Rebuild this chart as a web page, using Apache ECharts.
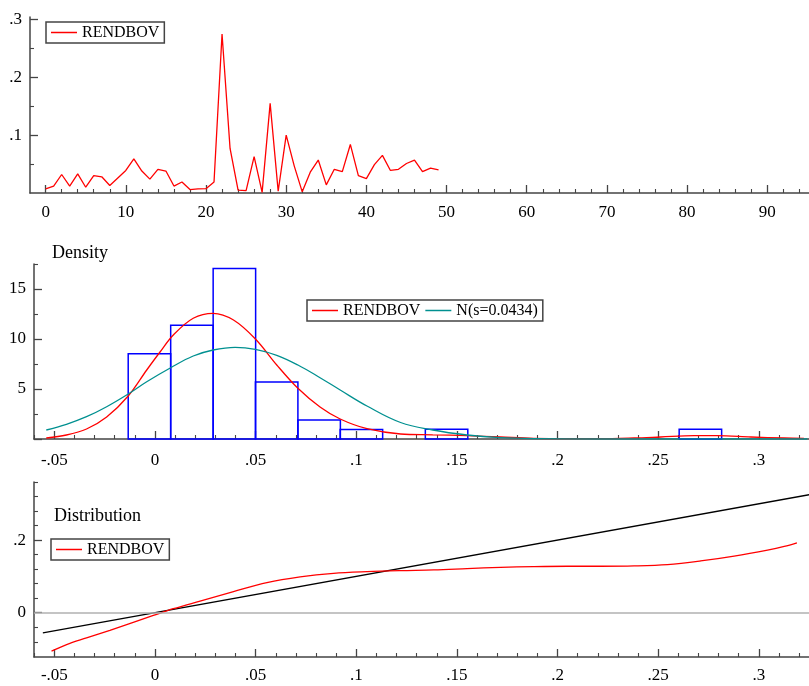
<!DOCTYPE html>
<html>
<head>
<meta charset="utf-8">
<script src="https://cdn.jsdelivr.net/npm/echarts@6/dist/echarts.min.js"></script>
<style>
  html, body { margin: 0; padding: 0; background: #fff; }
  #main { width: 809px; height: 686px; }
</style>
</head>
<body>
<div id="main"></div>
<script>
// panel 1: series by lag index 0..49
var rendbov = [0.007, 0.012, 0.032, 0.012, 0.033, 0.010, 0.030, 0.028, 0.013, 0.026,
  0.039, 0.059, 0.038, 0.024, 0.041, 0.038, 0.012, 0.019, 0.006, 0.007,
  0.0075, 0.019, 0.275, 0.077, 0.005, 0.004, 0.063, 0.001, 0.155, 0.003,
  0.100, 0.047, 0.002, 0.036, 0.057, 0.014, 0.041, 0.037, 0.084, 0.030,
  0.025, 0.049, 0.065, 0.039, 0.041, 0.051, 0.057, 0.037, 0.043, 0.040];

// panel 2: histogram (left edge, height), bin width
var binLeft = [-0.0133, 0.0078, 0.0289, 0.0499, 0.0710, 0.0920, 0.1343, 0.2604];
var binHeight = [8.53, 11.37, 17.06, 5.69, 1.90, 0.95, 0.97, 0.97];
var binWidth = 0.0211;

// panel 2: kernel density (red)
var densX = [-0.054, -0.044, -0.034, -0.024, -0.0133, -0.0041, 0.0025, 0.0091, 0.019, 0.0289,
  0.039, 0.0499, 0.0605, 0.071, 0.082, 0.092, 0.1053, 0.122, 0.138, 0.155,
  0.1716, 0.188, 0.2048, 0.221, 0.238, 0.2512, 0.2678, 0.2794, 0.296, 0.3125, 0.3224];
var densY = [0.1, 0.4, 1.0, 2.2, 4.3, 6.9, 8.7, 10.4, 12.07, 12.57,
  11.9, 10.0, 7.4, 5.07, 3.2, 2.0, 1.03, 0.5, 0.42, 0.33,
  0.2, 0.07, 0.03, 0.03, 0.1, 0.2, 0.33, 0.33, 0.2, 0.1, 0.07];

// panel 2: normal reference (teal)
var normX = [-0.054, -0.044, -0.034, -0.024, -0.0133, -0.0041, 0.0078, 0.019, 0.0289, 0.0398,
  0.0499, 0.0605, 0.071, 0.082, 0.092, 0.1053, 0.122, 0.138, 0.155, 0.1716,
  0.19, 0.22, 0.26, 0.30, 0.324];
var normY = [0.9, 1.47, 2.23, 3.23, 4.5, 5.73, 7.13, 8.3, 8.9, 9.17,
  8.97, 8.37, 7.4, 6.13, 4.9, 3.3, 1.65, 0.9, 0.4, 0.13,
  0.03, 0.0, 0.0, 0.0, 0.0];

// panel 3: distribution (red) and 45 degree line (black)
var distX = [-0.0514, -0.0439, -0.034, -0.0224, -0.0108, -0.0008, 0.0091, 0.0224, 0.039, 0.0556,
  0.0721, 0.0887, 0.1053, 0.122, 0.1385, 0.155, 0.1716, 0.188, 0.2048, 0.2214,
  0.238, 0.2546, 0.2711, 0.2877, 0.3043, 0.3126, 0.3189];
var distY = [-0.106, -0.0877, -0.0694, -0.0484, -0.0265, -0.0075, 0.011, 0.032, 0.058, 0.0826,
  0.0985, 0.1085, 0.1132, 0.116, 0.1178, 0.1214, 0.125, 0.127, 0.128, 0.128,
  0.1288, 0.1324, 0.1425, 0.156, 0.1726, 0.1827, 0.1926];
var diagX = [-0.0557, 0.3254];
var diagY = [-0.0557, 0.3254];

// tick labels
var p1XTicks = [0, 10, 20, 30, 40, 50, 60, 70, 80, 90];
var p1XMinor = [2, 4, 6, 8, 12, 14, 16, 18, 22, 24, 26, 28, 32, 34, 36, 38, 42, 44, 46, 48,
  52, 54, 56, 58, 62, 64, 66, 68, 72, 74, 76, 78, 82, 84, 86, 88, 92, 94];
var p1YTicks = [0.1, 0.2, 0.3];
var p1YMinor = [0.05, 0.15, 0.25];
var retTicks = [-0.05, 0, 0.05, 0.1, 0.15, 0.2, 0.25, 0.3];
var p2YTicks = [5, 10, 15];
var p2YMinor = [2.5, 7.5, 12.5, 17.5];
var p3YTicks = [0, 0.2];
var p3YMinor = [-0.08, -0.04, 0.04, 0.08, 0.12, 0.16, 0.24, 0.28, 0.32, 0.36];

var retMinor = [];
for (var k = -6; k <= 32; k++) {
  if (k % 5 !== 0) retMinor.push(+(k / 100).toFixed(2));
}

var FONT = 'Liberation Serif';
var AX = '#444';

function fmt(v) {
  if (v === 0) return '0';
  return String(+v.toFixed(4)).replace(/^(-?)0\./, '$1.');
}
function pairs(xs, ys) {
  return xs.map(function (x, i) { return [x, ys[i]]; });
}

function majorX(grid, min, max, ticks, margin) {
  return {
    type: 'value', gridIndex: grid, min: min, max: max, position: 'bottom',
    axisLine: { show: true, onZero: false, lineStyle: { color: AX, width: 1.5 } },
    axisTick: { show: true, inside: true, length: 8, customValues: ticks, lineStyle: { color: AX, width: 1.3 } },
    axisLabel: { show: true, customValues: ticks, formatter: fmt, margin: margin,
      fontFamily: FONT, fontSize: 17, color: '#000' },
    splitLine: { show: false }
  };
}
function minorX(grid, min, max, ticks) {
  return {
    type: 'value', gridIndex: grid, min: min, max: max, position: 'bottom',
    axisLine: { show: false, onZero: false },
    axisTick: { show: true, inside: true, length: 4, customValues: ticks, lineStyle: { color: AX, width: 1.1 } },
    axisLabel: { show: false },
    splitLine: { show: false }
  };
}
function majorY(grid, min, max, ticks, labels) {
  return {
    type: 'value', gridIndex: grid, min: min, max: max, position: 'left',
    axisLine: { show: true, onZero: false, lineStyle: { color: AX, width: 1.5 } },
    axisTick: { show: true, inside: true, length: 8, customValues: ticks, lineStyle: { color: AX, width: 1.3 } },
    axisLabel: { show: true, customValues: labels, formatter: fmt, margin: 8,
      fontFamily: FONT, fontSize: 17, color: '#000' },
    splitLine: { show: false }
  };
}
function minorY(grid, min, max, ticks) {
  return {
    type: 'value', gridIndex: grid, min: min, max: max, position: 'left',
    axisLine: { show: false, onZero: false },
    axisTick: { show: true, inside: true, length: 4, customValues: ticks, lineStyle: { color: AX, width: 1.1 } },
    axisLabel: { show: false },
    splitLine: { show: false }
  };
}
function legendBox(left, top, names) {
  return {
    left: left, top: top, orient: 'horizontal',
    data: names.map(function (n) { return { name: n, icon: 'rect' }; }),
    itemWidth: 26, itemHeight: 1.5, itemGap: 5,
    padding: [2, 5, 2, 5],
    borderColor: AX, borderWidth: 1.5, borderRadius: 0,
    selectedMode: false,
    textStyle: { fontFamily: FONT, fontSize: 16, color: '#000', lineHeight: 17 }
  };
}

var chart = echarts.init(document.getElementById('main'));

var option = {
  animation: false,
  backgroundColor: '#fff',
  grid: [
    { left: 30, top: 17, right: 0, height: 176, outerBoundsMode: 'none' },
    { left: 34, top: 264, right: 0, height: 175, outerBoundsMode: 'none' },
    { left: 34, top: 482, right: 0, height: 175, outerBoundsMode: 'none' }
  ],
  xAxis: [
    majorX(0, -1.95, 95.2, p1XTicks, 11),
    minorX(0, -1.95, 95.2, p1XMinor),
    majorX(1, -0.0601, 0.3249, retTicks, 13),
    minorX(1, -0.0601, 0.3249, retMinor),
    majorX(2, -0.0601, 0.3249, retTicks, 10),
    minorX(2, -0.0601, 0.3249, retMinor)
  ],
  yAxis: [
    majorY(0, 0, 0.3045, p1YTicks, p1YTicks),
    minorY(0, 0, 0.3045, p1YMinor),
    majorY(1, 0, 17.5, [0].concat(p2YTicks), p2YTicks),
    minorY(1, 0, 17.5, p2YMinor),
    majorY(2, -0.122, 0.36, p3YTicks, p3YTicks),
    minorY(2, -0.122, 0.36, p3YMinor)
  ],
  legend: [
    legendBox(46, 22, ['RENDBOV']),
    legendBox(307, 300, ['RENDBOV', 'N(s=0.0434)']),
    legendBox(51, 539, ['RENDBOV'])
  ],
  graphic: [
    { type: 'text', left: 52, top: 244, style: { text: 'Density', font: '18px "Liberation Serif"', fill: '#000' } },
    { type: 'text', left: 54, top: 507, style: { text: 'Distribution', font: '18px "Liberation Serif"', fill: '#000' } }
  ],
  series: [
    {
      name: 'RENDBOV', type: 'line', xAxisIndex: 0, yAxisIndex: 0,
      data: rendbov.map(function (v, i) { return [i, v]; }),
      symbol: 'none', lineStyle: { color: '#ff0000', width: 1.3 }, itemStyle: { color: '#ff0000' }
    },
    {
      name: 'hist', type: 'custom', xAxisIndex: 2, yAxisIndex: 2,
      data: binLeft.map(function (x, i) { return [x, x + binWidth, binHeight[i]]; }),
      encode: { x: [0, 1], y: 2 },
      renderItem: function (params, api) {
        var p0 = api.coord([api.value(0), api.value(2)]);
        var p1 = api.coord([api.value(1), 0]);
        return {
          type: 'rect',
          shape: { x: p0[0], y: p0[1], width: p1[0] - p0[0], height: p1[1] - p0[1] },
          style: { fill: 'none', stroke: '#0000ff', lineWidth: 1.5 }
        };
      },
      z: 2
    },
    {
      name: 'RENDBOV', type: 'line', xAxisIndex: 2, yAxisIndex: 2,
      data: pairs(densX, densY), smooth: 0.35,
      symbol: 'none', lineStyle: { color: '#ff0000', width: 1.3 }, itemStyle: { color: '#ff0000' }, z: 3
    },
    {
      name: 'N(s=0.0434)', type: 'line', xAxisIndex: 2, yAxisIndex: 2,
      data: pairs(normX, normY), smooth: 0.4,
      symbol: 'none', lineStyle: { color: '#009090', width: 1.3 }, itemStyle: { color: '#009090' }, z: 3
    },
    {
      name: 'diag', type: 'line', xAxisIndex: 4, yAxisIndex: 4,
      data: pairs(diagX, diagY),
      symbol: 'none', lineStyle: { color: '#000', width: 1.3 },
      markLine: {
        silent: true, symbol: 'none', label: { show: false },
        lineStyle: { color: '#b0b0b0', width: 1.6, type: 'solid' },
        data: [{ yAxis: 0 }]
      }
    },
    {
      name: 'RENDBOV', type: 'line', xAxisIndex: 4, yAxisIndex: 4,
      data: pairs(distX, distY), smooth: 0.35,
      symbol: 'none', lineStyle: { color: '#ff0000', width: 1.3 }, itemStyle: { color: '#ff0000' }, z: 3
    }
  ]
};

chart.setOption(option);
</script>
</body>
</html>
